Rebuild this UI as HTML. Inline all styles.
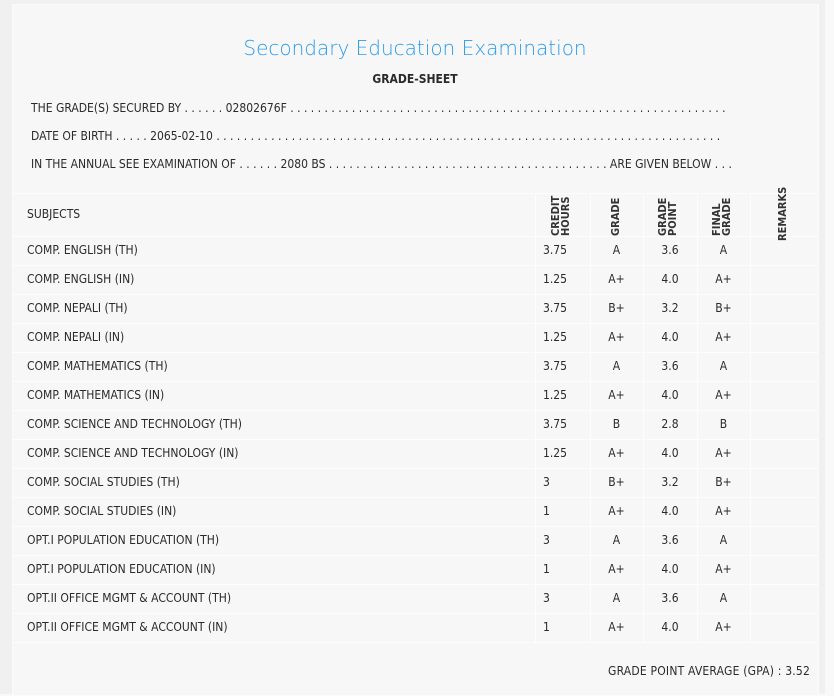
<!DOCTYPE html>
<html><head><meta charset="utf-8"><style>
html,body{margin:0;padding:0;width:834px;height:694px;overflow:hidden;background:#f9f9f9;}
#bg{position:absolute;left:0;top:0;width:825px;height:694px;background:#f0f0f0;}
#panel{position:absolute;left:12px;top:4px;width:805px;height:690px;background:#f7f7f7;border:1px solid #fbfbfb;}
.t{position:absolute;font-family:"DejaVu Sans Condensed","Liberation Sans",sans-serif;font-size:12px;color:#2a2a2a;white-space:nowrap;}
.h{position:absolute;background:#fdfdfd;height:1px;left:12px;width:806px;}
.v{position:absolute;background:#fdfdfd;width:1px;}
.rot{position:absolute;font-family:"DejaVu Sans Condensed","Liberation Sans",sans-serif;font-weight:bold;font-size:11px;color:#333;line-height:10px;transform:rotate(-90deg);transform-origin:left top;white-space:nowrap;z-index:2;}
</style></head><body>
<div id="bg"></div>
<div id="panel"></div>
<div class="t" style="left:0;width:830px;text-align:center;top:36px;font-family:'DejaVu Sans','Liberation Sans',sans-serif;font-size:20px;color:#2b9be9;font-weight:300;">Secondary Education Examination</div>
<div class="t" style="left:0;width:830px;text-align:center;top:72px;font-weight:bold;font-size:12px;">GRADE-SHEET</div>
<div class="t" id="l1" style="left:31px;top:101px;"></div>
<div class="t" id="l2" style="left:31px;top:129px;"></div>
<div class="t" id="l3" style="left:31px;top:157px;"></div>
<div class="h" style="top:193px"></div>
<div class="t" style="left:27px;top:207px;">SUBJECTS</div>
<div class="rot" style="left:551px;top:236px;">CREDIT<br>HOURS</div>
<div class="rot" style="left:611px;top:236px;">GRADE</div>
<div class="rot" style="left:658px;top:236px;">GRADE<br>POINT</div>
<div class="rot" style="left:712px;top:236px;">FINAL<br>GRADE</div>
<div class="rot" style="left:778px;top:241px;">REMARKS</div>
<div class="v" style="left:535px;top:193px;height:450px"></div>
<div class="v" style="left:590px;top:193px;height:450px"></div>
<div class="v" style="left:643px;top:193px;height:450px"></div>
<div class="v" style="left:697px;top:193px;height:450px"></div>
<div class="v" style="left:750px;top:193px;height:450px"></div>
<div id="rows"></div>
<div class="t" style="left:608px;top:664px;letter-spacing:0.2px;">GRADE POINT AVERAGE (GPA) : 3.52</div>
<script>
function dots(n){var s="";for(var i=0;i<n;i++)s+=" .";return s;}
document.getElementById("l1").textContent="THE GRADE(S) SECURED BY"+dots(6)+" 02802676F"+dots(64);
document.getElementById("l2").textContent="DATE OF BIRTH"+dots(5)+" 2065-02-10"+dots(74);
document.getElementById("l3").textContent="IN THE ANNUAL SEE EXAMINATION OF"+dots(6)+" 2080 BS"+dots(41)+" ARE GIVEN BELOW . . .";
var d=[["COMP. ENGLISH (TH)","3.75","A","3.6","A"],["COMP. ENGLISH (IN)","1.25","A+","4.0","A+"],["COMP. NEPALI (TH)","3.75","B+","3.2","B+"],["COMP. NEPALI (IN)","1.25","A+","4.0","A+"],["COMP. MATHEMATICS (TH)","3.75","A","3.6","A"],["COMP. MATHEMATICS (IN)","1.25","A+","4.0","A+"],["COMP. SCIENCE AND TECHNOLOGY (TH)","3.75","B","2.8","B"],["COMP. SCIENCE AND TECHNOLOGY (IN)","1.25","A+","4.0","A+"],["COMP. SOCIAL STUDIES (TH)","3","B+","3.2","B+"],["COMP. SOCIAL STUDIES (IN)","1","A+","4.0","A+"],["OPT.I POPULATION EDUCATION (TH)","3","A","3.6","A"],["OPT.I POPULATION EDUCATION (IN)","1","A+","4.0","A+"],["OPT.II OFFICE MGMT & ACCOUNT (TH)","3","A","3.6","A"],["OPT.II OFFICE MGMT & ACCOUNT (IN)","1","A+","4.0","A+"]];
var h="";
for(var i=0;i<d.length;i++){var yy=236+i*29,ty=yy+7;var r=d[i];
h+='<div class="h" style="top:'+yy+'px"></div>';
h+='<div class="t" style="left:27px;top:'+ty+'px">'+r[0].replace("&","&amp;")+'</div>';
h+='<div class="t" style="left:543px;top:'+ty+'px">'+r[1]+'</div>';
h+='<div class="t" style="left:590px;width:53px;text-align:center;top:'+ty+'px">'+r[2]+'</div>';
h+='<div class="t" style="left:643px;width:54px;text-align:center;top:'+ty+'px">'+r[3]+'</div>';
h+='<div class="t" style="left:697px;width:53px;text-align:center;top:'+ty+'px">'+r[4]+'</div>';}
h+='<div class="h" style="top:642px"></div>';
document.getElementById("rows").innerHTML=h;
</script>
</body></html>
